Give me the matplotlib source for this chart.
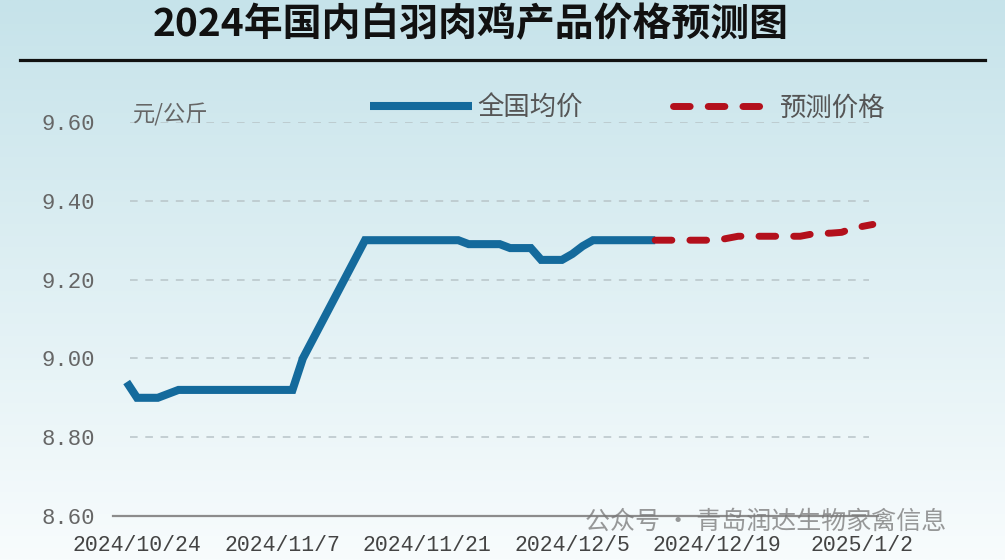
import numpy as np
import pandas as pd
import matplotlib
matplotlib.use("Agg")
import matplotlib.pyplot as plt
import matplotlib.dates as mdates
from matplotlib.lines import Line2D

plt.rcParams['font.family'] = ['Noto Sans CJK SC', 'DejaVu Sans']

# 数据
actual_start = '2024-10-23'
actual_prices = [8.94, 8.90, 8.90, 8.90, 8.91, 8.92, 8.92, 8.92, 8.92,
                 8.92, 8.92, 8.92, 8.92, 8.92, 8.92, 8.92, 8.92,
                 9.00, 9.05, 9.10, 9.15, 9.20, 9.25, 9.30,
                 9.30, 9.30, 9.30, 9.30, 9.30, 9.30, 9.30, 9.30, 9.30,
                 9.29, 9.29, 9.29, 9.29,
                 9.28, 9.28, 9.28,
                 9.25, 9.25, 9.25,
                 9.265, 9.285,
                 9.30, 9.30, 9.30, 9.30, 9.30, 9.30, 9.30]
forecast_start = '2024-12-13'
forecast_prices = [9.30, 9.30, 9.30, 9.30, 9.30, 9.30, 9.30,
                   9.305, 9.31, 9.31, 9.31, 9.31, 9.31, 9.31, 9.31,
                   9.315, 9.317, 9.318, 9.32, 9.33, 9.335, 9.34]
tick_dates = ['2024-10-24', '2024-11-07', '2024-11-21', '2024-12-05', '2024-12-19', '2025-01-02']
y_ticks = [8.60, 8.80, 9.00, 9.20, 9.40, 9.60]

actual_dates = pd.date_range(actual_start, periods=len(actual_prices), freq='D')
forecast_dates = pd.date_range(forecast_start, periods=len(forecast_prices), freq='D')
ticks = pd.to_datetime(tick_dates)

fig = plt.figure(figsize=(10.05, 5.6), dpi=100)

# 背景渐变
bg = fig.add_axes([0, 0, 1, 1], zorder=-10)
top = np.array([198, 227, 234]) / 255
bottom = np.array([248, 252, 253]) / 255
t = np.linspace(0, 1, 256)[:, None]
grad = top * (1 - t) + bottom * t
bg.imshow(grad[:, None, :].repeat(2, axis=1), aspect='auto', extent=[0, 1, 0, 1])
bg.axis('off')

# 标题
fig.text(0.468, 0.955, '2024年国内白羽肉鸡产品价格预测图', ha='center', va='center',
         fontsize=28, fontweight='bold', color='#111111')
fig.add_artist(Line2D([20 / 1005, 985 / 1005], [1 - 60 / 560] * 2, color='#111111', lw=2.3,
                      transform=fig.transFigure))

ax = fig.add_axes([113 / 1005, 44 / 560, 765 / 1005, 394 / 560])
ax.patch.set_alpha(0)

x0 = mdates.date2num(pd.Timestamp('2024-10-24'))
ax.set_xlim(x0 - 2.32, x0 + 71.5)
ax.set_ylim(8.60, 9.60)

for v in y_ticks[1:]:
    ax.hlines(v, actual_dates[0] + pd.Timedelta(hours=8), forecast_dates[-1] - pd.Timedelta(hours=8),
              colors='#b8c4c8', linestyles=(0, (5, 5)), lw=1.1, zorder=1)

ax.plot(actual_dates, actual_prices, color='#146a9c', lw=5.8, solid_joinstyle='miter',
        solid_capstyle='butt', zorder=3, label='全国均价')
ax.plot(forecast_dates, forecast_prices, color='#b3101c', lw=5, linestyle=(0, (2.4, 2.6)),
        dash_capstyle='round', zorder=4, label='预测价格')

for s in ['top', 'right', 'left']:
    ax.spines[s].set_visible(False)
ax.spines['bottom'].set_color('#8c8c8c')
ax.spines['bottom'].set_linewidth(1.6)

ax.set_yticks(y_ticks)
ax.set_yticklabels([f'{v:.2f}' for v in y_ticks], family='Liberation Mono', fontsize=16, color='#666666')
ax.set_xticks(ticks)
ax.set_xticklabels([f'{d.year}/{d.month}/{d.day}' for d in ticks], family='Liberation Mono',
                   fontsize=15.5, color='#444444')
ax.tick_params(axis='both', length=0)
ax.tick_params(axis='y', pad=13)
ax.tick_params(axis='x', pad=14)

ax.text(133 / 1005, 1 - 115 / 560, '元/公斤', transform=fig.transFigure, ha='left', va='center',
        fontsize=16, color='#666666', style='italic')

ax.legend(loc='center left', bbox_to_anchor=(370 / 1005, 1 - 108 / 560), bbox_transform=fig.transFigure,
          ncol=2, frameon=False, fontsize=19, labelcolor='#555555', handlelength=3.85, handletextpad=0.22,
          columnspacing=3.4, borderpad=0, borderaxespad=0)

# 水印
fig.text(585 / 1005, 1 - 522 / 560, '公众号 · 青岛润达生物家禽信息', ha='left', va='center',
         fontsize=18, color='#777777', alpha=0.75)

fig.savefig('out.png', dpi=100)
